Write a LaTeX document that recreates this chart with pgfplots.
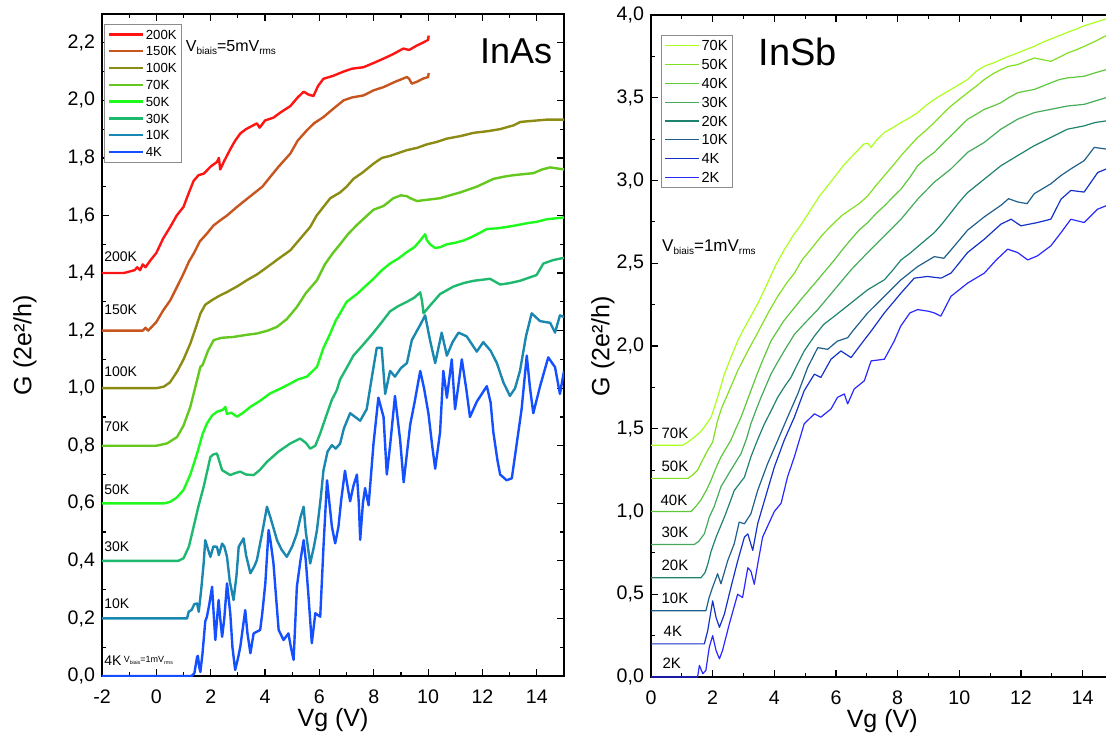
\documentclass[border=0pt]{standalone}
\usepackage{fontspec}
\setmainfont{Liberation Sans}
\usepackage{pgfplots}
\pgfplotsset{compat=1.18}
\definecolor{cA}{RGB}{255,20,20}
\definecolor{cB}{RGB}{200,85,30}
\definecolor{cC}{RGB}{140,140,20}
\definecolor{cD}{RGB}{100,200,30}
\definecolor{cE}{RGB}{30,250,30}
\definecolor{cF}{RGB}{30,185,110}
\definecolor{cG}{RGB}{25,135,175}
\definecolor{cH}{RGB}{20,80,255}
\definecolor{rA}{RGB}{170,255,30}
\definecolor{rB}{RGB}{128,224,32}
\definecolor{rC}{RGB}{92,200,58}
\definecolor{rD}{RGB}{69,170,90}
\definecolor{rE}{RGB}{30,130,110}
\definecolor{rF}{RGB}{30,95,140}
\definecolor{rG}{RGB}{20,50,200}
\definecolor{rH}{RGB}{40,40,255}
\tikzset{clab/.style={font=\fontsize{7}{8}\selectfont,anchor=west,inner sep=0pt}}
\pgfplotsset{
  common/.style={
    scale only axis,
    tick align=inside,
    major tick length=3.5pt,
    minor tick length=2pt,
    axis line style={line width=0.65pt},
    every tick/.style={black,line width=0.6pt},
    /pgf/number format/assume math mode=true,
    tick label style={font=\fontsize{9.8}{11}\selectfont},
    xticklabel style={yshift=-3.5pt},
    yticklabel style={/pgf/number format/.cd,fixed,fixed zerofill,precision=1,use comma},
    label style={font=\fontsize{12.5}{14}\selectfont},
    xlabel style={at={([yshift=-22pt]axis description cs:0.5,0)},anchor=center},
    minor x tick num=1,
    minor y tick num=1,
    legend cell align=left,
  },
}
\begin{document}
\begin{tikzpicture}
%% ---------------- Left: InAs ----------------
\begin{axis}[common,
  at={(0pt,0pt)}, anchor=south west,
  width=231pt, height=331pt,
  xmin=-2, xmax=15, ymin=0, ymax=2.3,
  xtick={-2,0,2,4,6,8,10,12,14},
  ytick={0,0.2,0.4,0.6,0.8,1.0,1.2,1.4,1.6,1.8,2.0,2.2},
  xlabel={Vg (V)}, ylabel={G (2e²/h)},
  ylabel style={at={([xshift=-38.5pt]axis description cs:0,0.5)},anchor=center},
  legend style={at={(0.004,0.985)},anchor=north west,draw=black!45,line width=0.5pt,
    font=\fontsize{6.6}{7}\selectfont,inner sep=1.5pt,row sep=1.4pt,
    nodes={inner sep=1pt,text height=4.8pt,text depth=0.2pt}},
]
\addplot[cA,line width=1.2pt,line join=round] coordinates {(-2,1.40) (-1.2,1.40) (-1.0,1.405) (-0.8,1.41) (-0.7,1.42) (-0.6,1.41) (-0.5,1.43) (-0.4,1.42) (-0.22,1.444) (0,1.47) (0.25,1.52) (0.51,1.56) (0.75,1.60) (1.0,1.63) (1.2,1.68) (1.37,1.72) (1.55,1.74) (1.74,1.745) (2.0,1.77) (2.23,1.786) (2.3,1.80) (2.35,1.76) (2.5,1.79) (2.72,1.83) (2.9,1.86) (3.09,1.885) (3.3,1.90) (3.5,1.91) (3.70,1.92) (3.8,1.905) (4.0,1.93) (4.31,1.94) (4.6,1.96) (4.93,1.98) (5.2,2.01) (5.42,2.03) (5.6,2.02) (5.78,2.015) (5.95,2.05) (6.15,2.075) (6.5,2.085) (6.89,2.10) (7.2,2.11) (7.62,2.115) (8.0,2.13) (8.36,2.145) (8.7,2.16) (9.09,2.18) (9.3,2.175) (9.58,2.19) (9.8,2.20) (10.0,2.21) (10.02,2.225)};
\addlegendentry{200K}
\addplot[cB,line width=1.2pt,line join=round] coordinates {(-2,1.2) (-0.5,1.2) (-0.4,1.21) (-0.3,1.2) (0,1.23) (0.25,1.27) (0.51,1.305) (0.75,1.35) (1.0,1.398) (1.2,1.44) (1.37,1.467) (1.6,1.51) (1.86,1.537) (2.1,1.565) (2.35,1.583) (2.6,1.60) (2.97,1.63) (3.3,1.655) (3.58,1.676) (3.9,1.70) (4.19,1.734) (4.5,1.77) (4.93,1.815) (5.2,1.86) (5.54,1.896) (5.8,1.92) (6.15,1.942) (6.5,1.97) (6.89,2.0) (7.2,2.01) (7.62,2.017) (8.0,2.035) (8.36,2.046) (8.8,2.065) (9.22,2.081) (9.3,2.075) (9.4,2.058) (9.6,2.065) (9.8,2.075) (10.0,2.081) (10.02,2.095)};
\addlegendentry{150K}
\addplot[cC,line width=1.2pt,line join=round] coordinates {(-2,1.0) (0.0,1.0) (0.27,1.005) (0.5,1.02) (0.76,1.057) (1.0,1.10) (1.25,1.155) (1.45,1.21) (1.62,1.259) (1.8,1.29) (2.05,1.306) (2.3,1.32) (2.6,1.334) (3.0,1.355) (3.33,1.375) (3.7,1.395) (4.07,1.42) (4.5,1.45) (4.93,1.479) (5.3,1.52) (5.66,1.56) (5.9,1.60) (6.15,1.63) (6.4,1.66) (6.76,1.68) (7.0,1.70) (7.25,1.727) (7.6,1.75) (7.99,1.78) (8.3,1.80) (8.6,1.807) (9.0,1.82) (9.22,1.827) (9.6,1.835) (9.95,1.847) (10.3,1.855) (10.69,1.867) (11.2,1.876) (11.67,1.887) (12.2,1.893) (12.65,1.90) (13.14,1.913) (13.4,1.925) (13.63,1.927) (14.0,1.93) (14.37,1.933) (15,1.933)};
\addlegendentry{100K}
\addplot[cD,line width=1.2pt,line join=round] coordinates {(-2,0.8) (0.0,0.8) (0.39,0.808) (0.76,0.83) (1.0,0.87) (1.25,0.935) (1.45,1.01) (1.62,1.074) (1.7,1.08) (1.9,1.13) (2.11,1.167) (2.4,1.175) (2.84,1.178) (3.3,1.185) (3.70,1.19) (4.1,1.20) (4.44,1.213) (4.8,1.24) (5.17,1.282) (5.5,1.33) (5.91,1.375) (6.2,1.43) (6.5,1.47) (6.76,1.5) (7.05,1.535) (7.38,1.567) (7.7,1.595) (7.99,1.62) (8.36,1.633) (8.72,1.66) (9.0,1.67) (9.22,1.667) (9.34,1.66) (9.6,1.65) (9.83,1.653) (10.44,1.66) (10.8,1.67) (11.18,1.68) (11.79,1.70) (12.4,1.727) (12.8,1.735) (13.14,1.74) (13.87,1.747) (14.2,1.76) (14.49,1.767) (15,1.76)};
\addlegendentry{70K}
\addplot[cE,line width=1.2pt,line join=round] coordinates {(-2,0.6) (0.3,0.6) (0.51,0.605) (0.75,0.62) (1.0,0.646) (1.25,0.70) (1.5,0.773) (1.7,0.84) (1.86,0.877) (2.05,0.905) (2.23,0.918) (2.45,0.925) (2.54,0.935) (2.6,0.91) (2.75,0.915) (2.97,0.901) (3.2,0.915) (3.46,0.935) (3.8,0.955) (4.19,0.982) (4.6,1.0) (4.93,1.016) (5.2,1.03) (5.54,1.04) (5.91,1.074) (6.15,1.14) (6.4,1.19) (6.6,1.235) (6.76,1.26) (7.0,1.30) (7.38,1.327) (7.7,1.355) (7.99,1.38) (8.3,1.41) (8.6,1.433) (8.9,1.45) (9.22,1.473) (9.5,1.49) (9.71,1.513) (9.89,1.535) (9.95,1.515) (10.07,1.50) (10.26,1.487) (10.45,1.49) (10.69,1.50) (11.0,1.505) (11.3,1.513) (11.6,1.525) (11.91,1.54) (12.16,1.553) (12.5,1.555) (12.89,1.56) (13.2,1.565) (13.63,1.573) (14.0,1.578) (14.37,1.587) (14.7,1.59) (15,1.593)};
\addlegendentry{50K}
\addplot[cF,line width=1.2pt,line join=round] coordinates {(-2,0.4) (0.8,0.4) (1.0,0.409) (1.2,0.45) (1.37,0.518) (1.55,0.59) (1.74,0.657) (1.99,0.761) (2.1,0.77) (2.23,0.773) (2.42,0.715) (2.72,0.698) (2.9,0.705) (3.09,0.71) (3.3,0.70) (3.58,0.698) (3.8,0.715) (4.07,0.744) (4.5,0.78) (4.93,0.808) (5.29,0.825) (5.5,0.81) (5.66,0.79) (5.85,0.80) (6.03,0.843) (6.28,0.912) (6.46,0.96) (6.64,0.993) (6.76,1.03) (7.0,1.07) (7.25,1.113) (7.6,1.15) (7.99,1.193) (8.3,1.23) (8.6,1.267) (8.9,1.285) (9.22,1.30) (9.5,1.315) (9.71,1.333) (9.78,1.30) (9.83,1.26) (10.07,1.287) (10.44,1.327) (10.93,1.353) (11.3,1.365) (11.67,1.373) (12.28,1.38) (12.65,1.36) (13.0,1.365) (13.38,1.373) (13.99,1.393) (14.24,1.433) (14.6,1.445) (15,1.453)};
\addlegendentry{30K}
\addplot[cG,line width=1.2pt,line join=round] coordinates {(-2,0.2) (1.13,0.2) (1.19,0.223) (1.3,0.23) (1.4,0.25) (1.5,0.252) (1.56,0.223) (1.65,0.30) (1.74,0.391) (1.8,0.472) (1.9,0.44) (1.99,0.414) (2.1,0.45) (2.23,0.449) (2.3,0.42) (2.42,0.46) (2.5,0.45) (2.6,0.414) (2.7,0.33) (2.84,0.264) (2.95,0.35) (3.03,0.449) (3.21,0.478) (3.3,0.42) (3.46,0.357) (3.6,0.38) (3.70,0.403) (3.89,0.495) (4.07,0.588) (4.2,0.55) (4.44,0.472) (4.6,0.44) (4.80,0.414) (5.0,0.45) (5.17,0.495) (5.3,0.55) (5.42,0.588) (5.5,0.50) (5.66,0.391) (5.8,0.45) (5.91,0.507) (6.05,0.62) (6.15,0.715) (6.3,0.78) (6.46,0.802) (6.6,0.79) (6.76,0.807) (6.9,0.86) (7.13,0.913) (7.5,0.887) (7.74,0.927) (7.95,1.05) (8.11,1.14) (8.29,1.14) (8.42,0.98) (8.6,1.06) (8.78,1.04) (9.0,1.07) (9.22,1.087) (9.4,1.167) (9.71,1.22) (9.89,1.253) (10.07,1.167) (10.26,1.087) (10.5,1.193) (10.69,1.113) (10.9,1.16) (11.12,1.193) (11.42,1.18) (11.79,1.127) (12.03,1.16) (12.3,1.13) (12.53,1.087) (12.77,1.02) (13.01,0.973) (13.2,1.0) (13.38,1.06) (13.6,1.18) (13.81,1.26) (14.12,1.233) (14.49,1.227) (14.67,1.193) (14.85,1.253) (15,1.247)};
\addlegendentry{10K}
\addplot[cH,line width=1.2pt,line join=round] coordinates {(-2,0) (1.3,0) (1.4,0.01) (1.5,0.067) (1.53,0.07) (1.58,0.03) (1.62,0.014) (1.7,0.08) (1.8,0.19) (1.86,0.206) (1.95,0.25) (2.05,0.31) (2.12,0.2) (2.17,0.125) (2.29,0.264) (2.35,0.2) (2.42,0.136) (2.5,0.2) (2.6,0.322) (2.72,0.218) (2.8,0.1) (2.9,0.021) (3.0,0.06) (3.09,0.102) (3.27,0.229) (3.35,0.15) (3.46,0.079) (3.58,0.148) (3.82,0.16) (3.9,0.22) (4.01,0.322) (4.13,0.507) (4.2,0.47) (4.31,0.391) (4.4,0.28) (4.5,0.16) (4.68,0.125) (4.86,0.148) (4.95,0.1) (5.05,0.056) (5.17,0.31) (5.3,0.40) (5.42,0.472) (5.5,0.40) (5.6,0.275) (5.72,0.114) (5.85,0.218) (6.03,0.206) (6.15,0.449) (6.28,0.68) (6.46,0.518) (6.58,0.461) (6.7,0.518) (6.8,0.61) (6.94,0.713) (7.05,0.65) (7.13,0.607) (7.25,0.66) (7.38,0.70) (7.45,0.6) (7.5,0.473) (7.6,0.6) (7.68,0.653) (7.81,0.593) (7.99,0.807) (8.17,0.967) (8.36,0.90) (8.48,0.70) (8.6,0.8) (8.78,0.973) (8.97,0.82) (9.1,0.673) (9.34,0.873) (9.5,0.95) (9.71,1.06) (9.85,1.0) (10.01,0.913) (10.15,0.8) (10.26,0.72) (10.44,0.847) (10.56,1.06) (10.69,0.967) (10.87,1.10) (10.99,0.927) (11.1,1.0) (11.24,1.10) (11.4,1.0) (11.54,0.90) (11.79,0.953) (12.16,1.007) (12.3,0.95) (12.4,0.847) (12.55,0.75) (12.65,0.70) (12.89,0.68) (13.08,0.687) (13.26,0.807) (13.44,0.927) (13.63,1.113) (13.75,1.0) (13.87,0.913) (14.12,1.007) (14.42,1.107) (14.67,1.073) (14.85,0.98) (15,1.06)};
\addlegendentry{4K}
\node[clab] at (axis cs:-1.93,1.458) {200K};
\node[clab] at (axis cs:-1.93,1.271) {150K};
\node[clab] at (axis cs:-1.93,1.059) {100K};
\node[clab] at (axis cs:-1.93,0.865) {70K};
\node[clab] at (axis cs:-1.93,0.649) {50K};
\node[clab] at (axis cs:-1.93,0.448) {30K};
\node[clab] at (axis cs:-1.93,0.250) {10K};
\node[clab] at (axis cs:-1.93,0.052) {4K\,\raisebox{1.5pt}{\fontsize{4.5}{5}\selectfont V\raisebox{-0.8pt}{\fontsize{2.6}{3}\selectfont biais}=1mV\raisebox{-0.8pt}{\fontsize{2.6}{3}\selectfont rms}}};
\node[anchor=base west,inner sep=0pt] at (axis cs:1.07,2.17) {\fontsize{8}{9}\selectfont V\raisebox{-1.3pt}{\fontsize{5}{6}\selectfont biais}=5mV\raisebox{-1.3pt}{\fontsize{5}{6}\selectfont rms}};
\node[anchor=base west,inner sep=0pt,font=\fontsize{18}{20}\selectfont] at (axis cs:11.9,2.127) {InAs};
\end{axis}
%% ---------------- Right: InSb ----------------
\begin{axis}[common,
  at={(274.5pt,-0.5pt)}, anchor=south west,
  width=231.2pt, height=331pt,
  xmin=0, xmax=15, ymin=0, ymax=4,
  xtick={0,2,4,6,8,10,12,14},
  ytick={0,0.5,1.0,1.5,2.0,2.5,3.0,3.5,4.0},
  xlabel={Vg (V)}, ylabel={G (2e²/h)},
  ylabel style={at={([xshift=-24pt]axis description cs:0,0.5)},anchor=center},
  legend style={at={(0.021,0.97)},anchor=north west,draw=black!45,line width=0.5pt,
    font=\fontsize{7.3}{8}\selectfont,inner sep=1.5pt,row sep=1.9pt,
    nodes={inner sep=1pt,text height=5.3pt,text depth=0.2pt}},
]
\addplot[rA,line width=0.6pt,line join=round] coordinates {(0,1.4) (1.03,1.4) (1.2,1.42) (1.41,1.45) (1.6,1.48) (1.73,1.51) (1.95,1.57) (2.16,1.69) (2.38,1.83) (2.59,1.93) (2.81,2.03) (3.0,2.10) (3.24,2.18) (3.5,2.27) (3.78,2.38) (4.05,2.49) (4.32,2.58) (4.62,2.67) (4.86,2.73) (5.1,2.80) (5.48,2.91) (5.7,2.96) (5.95,3.02) (6.24,3.09) (6.49,3.14) (6.75,3.19) (6.9,3.22) (7.03,3.225) (7.14,3.2) (7.3,3.24) (7.57,3.29) (7.85,3.32) (8.11,3.35) (8.4,3.38) (8.65,3.41) (8.9,3.45) (9.19,3.49) (9.45,3.52) (9.73,3.55) (10.0,3.58) (10.27,3.61) (10.55,3.66) (10.81,3.69) (11.1,3.71) (11.35,3.73) (11.6,3.75) (11.89,3.77) (12.15,3.79) (12.43,3.81) (12.7,3.835) (12.97,3.855) (13.25,3.875) (13.51,3.895) (13.8,3.915) (14.05,3.935) (14.4,3.955) (14.76,3.976) (15,3.99)};
\addlegendentry{70K}
\addplot[rB,line width=0.6pt,line join=round] coordinates {(0,1.2) (1.19,1.2) (1.35,1.22) (1.51,1.25) (1.7,1.32) (1.84,1.37) (2.0,1.42) (2.16,1.55) (2.3,1.63) (2.49,1.71) (2.65,1.78) (2.81,1.85) (3.0,1.92) (3.14,1.97) (3.46,2.08) (3.8,2.2) (4.11,2.3) (4.4,2.38) (4.65,2.44) (4.9,2.52) (5.19,2.585) (5.55,2.67) (5.95,2.746) (6.2,2.79) (6.49,2.827) (6.75,2.86) (7.03,2.907) (7.3,2.97) (7.57,3.03) (7.85,3.09) (8.11,3.15) (8.4,3.21) (8.65,3.26) (8.9,3.30) (9.19,3.35) (9.45,3.40) (9.73,3.45) (10.0,3.49) (10.27,3.53) (10.55,3.57) (10.81,3.61) (11.1,3.645) (11.35,3.67) (11.6,3.69) (11.89,3.70) (12.15,3.72) (12.43,3.74) (12.7,3.73) (12.97,3.72) (13.25,3.745) (13.51,3.77) (13.8,3.79) (14.05,3.81) (14.4,3.84) (14.76,3.875) (15,3.89)};
\addlegendentry{50K}
\addplot[rC,line width=0.6pt,line join=round] coordinates {(0,1.0) (1.3,1.0) (1.45,1.03) (1.62,1.07) (1.8,1.13) (1.95,1.19) (2.1,1.26) (2.27,1.33) (2.59,1.43) (2.75,1.5) (2.92,1.57) (3.08,1.65) (3.24,1.73) (3.4,1.81) (3.57,1.89) (3.89,2.03) (4.3,2.15) (4.86,2.28) (5.41,2.4) (5.95,2.52) (6.2,2.58) (6.49,2.645) (6.75,2.70) (7.03,2.746) (7.3,2.8) (7.57,2.847) (7.85,2.9) (8.11,2.948) (8.4,3.02) (8.65,3.089) (8.9,3.13) (9.19,3.17) (9.45,3.22) (9.73,3.27) (10.0,3.32) (10.27,3.37) (10.55,3.40) (10.81,3.43) (11.1,3.45) (11.35,3.47) (11.6,3.50) (11.89,3.53) (12.15,3.54) (12.43,3.55) (12.7,3.57) (12.97,3.59) (13.25,3.61) (13.51,3.62) (13.8,3.625) (14.05,3.63) (14.4,3.65) (14.76,3.67) (15,3.68)};
\addlegendentry{40K}
\addplot[rD,line width=0.6pt,line join=round] coordinates {(0,0.8) (1.4,0.8) (1.55,0.82) (1.73,0.865) (1.89,0.966) (2.05,1.03) (2.27,1.15) (2.59,1.25) (2.92,1.35) (3.1,1.44) (3.24,1.53) (3.4,1.61) (3.57,1.69) (3.89,1.83) (4.1,1.9) (4.32,1.97) (4.65,2.07) (5.0,2.14) (5.41,2.22) (5.95,2.34) (6.49,2.46) (7.03,2.565) (7.57,2.665) (8.11,2.766) (8.65,2.887) (9.19,2.99) (9.73,3.07) (10.27,3.17) (10.81,3.23) (11.35,3.31) (11.89,3.37) (12.43,3.41) (12.97,3.43) (13.51,3.45) (14.05,3.46) (14.4,3.48) (14.76,3.50) (15,3.52)};
\addlegendentry{30K}
\addplot[rE,line width=0.6pt,line join=round] coordinates {(0,0.6) (1.62,0.6) (1.75,0.63) (1.84,0.68) (1.95,0.76) (2.11,0.845) (2.38,0.966) (2.55,1.05) (2.7,1.127) (3.03,1.207) (3.24,1.33) (3.45,1.43) (3.68,1.53) (3.9,1.61) (4.11,1.69) (4.35,1.76) (4.54,1.81) (4.75,1.89) (4.97,1.97) (5.3,2.06) (5.6,2.13) (5.95,2.18) (6.49,2.26) (7.03,2.34) (7.57,2.40) (7.85,2.46) (8.11,2.52) (8.4,2.56) (8.65,2.60) (9.19,2.685) (9.45,2.74) (9.73,2.806) (10.0,2.87) (10.27,2.927) (10.81,3.008) (11.35,3.089) (11.89,3.15) (12.43,3.21) (12.97,3.26) (13.51,3.31) (14.05,3.33) (14.4,3.35) (14.76,3.36) (15,3.37)};
\addlegendentry{20K}
\addplot[rF,line width=0.6pt,line join=round] coordinates {(0,0.4) (1.78,0.4) (1.89,0.483) (2.0,0.543) (2.16,0.624) (2.27,0.563) (2.49,0.704) (2.7,0.805) (2.86,0.936) (3.03,0.926) (3.24,0.986) (3.46,1.127) (3.78,1.288) (4.11,1.43) (4.43,1.57) (4.76,1.71) (5.08,1.87) (5.41,1.99) (5.73,1.98) (6.05,2.03) (6.38,2.05) (6.54,2.09) (7.03,2.2) (7.57,2.3) (8.11,2.4) (8.65,2.48) (9.19,2.54) (9.5,2.53) (9.73,2.58) (10.27,2.7) (10.81,2.78) (11.35,2.85) (11.6,2.89) (11.9,2.87) (12.2,2.86) (12.43,2.92) (12.97,2.98) (13.3,3.03) (13.62,3.07) (14.05,3.12) (14.38,3.2) (14.76,3.19) (15,3.21)};
\addlegendentry{10K}
\addplot[rG,line width=0.6pt,line join=round] coordinates {(0,0.2) (1.73,0.2) (1.84,0.28) (2.0,0.46) (2.11,0.36) (2.22,0.30) (2.38,0.38) (2.59,0.54) (2.81,0.70) (3.03,0.845) (3.14,0.865) (3.3,0.765) (3.46,0.926) (3.68,1.066) (4.0,1.268) (4.32,1.43) (4.65,1.57) (4.97,1.73) (5.3,1.83) (5.51,1.81) (5.84,1.92) (6.16,1.97) (6.49,1.93) (6.81,2.01) (7.14,2.09) (7.57,2.2) (8.11,2.32) (8.54,2.41) (8.97,2.42) (9.41,2.41) (9.73,2.44) (10.27,2.565) (10.81,2.645) (11.35,2.736) (11.68,2.766) (12.0,2.726) (12.54,2.746) (12.97,2.766) (13.3,2.887) (13.62,2.94) (14.05,2.93) (14.49,3.048) (14.76,3.069) (15,3.08)};
\addlegendentry{4K}
\addplot[rH,line width=0.6pt,line join=round] coordinates {(0,0) (1.51,0) (1.57,0.07) (1.68,0.02) (1.78,0.04) (1.89,0.18) (2.0,0.25) (2.11,0.16) (2.22,0.11) (2.32,0.16) (2.54,0.32) (2.81,0.50) (2.97,0.48) (3.14,0.66) (3.24,0.64) (3.35,0.56) (3.46,0.68) (3.62,0.845) (4.0,1.0) (4.22,1.05) (4.43,1.21) (4.65,1.33) (4.97,1.53) (5.3,1.59) (5.51,1.57) (5.84,1.62) (6.05,1.69) (6.27,1.71) (6.38,1.65) (6.59,1.74) (6.92,1.79) (7.14,1.91) (7.57,1.92) (7.89,2.03) (8.1,2.12) (8.4,2.2) (8.65,2.22) (9.0,2.21) (9.19,2.2) (9.4,2.18) (9.73,2.3) (10.27,2.38) (10.81,2.44) (11.2,2.52) (11.57,2.585) (11.89,2.565) (12.22,2.52) (12.54,2.545) (12.97,2.605) (13.3,2.685) (13.62,2.766) (14.05,2.746) (14.49,2.827) (14.76,2.847) (15,2.86)};
\addlegendentry{2K}
\node[clab,font=\fontsize{7.5}{8}\selectfont] at (axis cs:0.33,1.47) {70K};
\node[clab,font=\fontsize{7.5}{8}\selectfont] at (axis cs:0.33,1.27) {50K};
\node[clab,font=\fontsize{7.5}{8}\selectfont] at (axis cs:0.30,1.07) {40K};
\node[clab,font=\fontsize{7.5}{8}\selectfont] at (axis cs:0.33,0.875) {30K};
\node[clab,font=\fontsize{7.5}{8}\selectfont] at (axis cs:0.33,0.674) {20K};
\node[clab,font=\fontsize{7.5}{8}\selectfont] at (axis cs:0.33,0.477) {10K};
\node[clab,font=\fontsize{7.5}{8}\selectfont] at (axis cs:0.40,0.276) {4K};
\node[clab,font=\fontsize{7.5}{8}\selectfont] at (axis cs:0.36,0.085) {2K};
\node[anchor=base west,inner sep=0pt] at (axis cs:0.35,2.57) {\fontsize{8.5}{9}\selectfont V\raisebox{-1.4pt}{\fontsize{5}{6}\selectfont biais}=1mV\raisebox{-1.4pt}{\fontsize{5}{6}\selectfont rms}};
\node[anchor=base west,inner sep=0pt,font=\fontsize{19}{21}\selectfont] at (axis cs:3.48,3.696) {InSb};
\end{axis}
\pgfresetboundingbox
\useasboundingbox (-51pt,-38.5pt) rectangle (502pt,338pt);
\end{tikzpicture}
\end{document}
